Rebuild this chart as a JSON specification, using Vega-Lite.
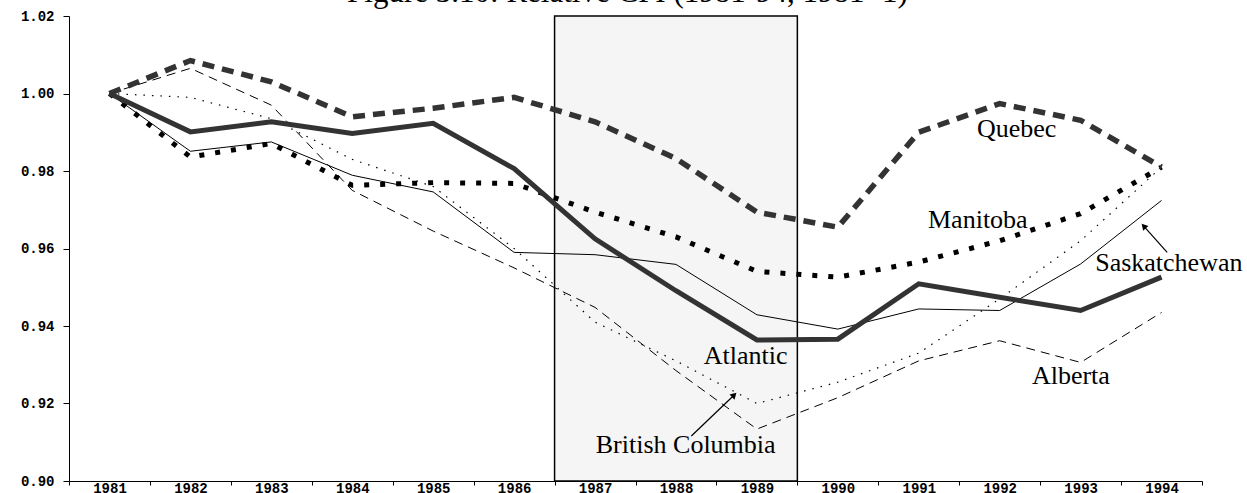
{
  "$schema": "https://vega.github.io/schema/vega-lite/v6.json",
  "width": 1133,
  "height": 465,
  "autosize": {"type": "none"},
  "padding": {"left": 69, "top": 16, "right": 45, "bottom": 12},
  "background": "white",
  "title": {
    "text": "Figure 3.10: Relative CPI (1981-94, 1981=1)",
    "font": "Liberation Serif",
    "fontSize": 31,
    "fontWeight": "normal",
    "color": "black",
    "anchor": "middle",
    "offset": 0,
    "dx": -8
  },
  "datasets": {
    "cpi": [
      {"year": 1981, "region": "Quebec", "value": 1.0},
      {"year": 1982, "region": "Quebec", "value": 1.0085},
      {"year": 1983, "region": "Quebec", "value": 1.003},
      {"year": 1984, "region": "Quebec", "value": 0.994},
      {"year": 1985, "region": "Quebec", "value": 0.9962},
      {"year": 1986, "region": "Quebec", "value": 0.999},
      {"year": 1987, "region": "Quebec", "value": 0.9927},
      {"year": 1988, "region": "Quebec", "value": 0.9832},
      {"year": 1989, "region": "Quebec", "value": 0.9694},
      {"year": 1990, "region": "Quebec", "value": 0.9655},
      {"year": 1991, "region": "Quebec", "value": 0.99},
      {"year": 1992, "region": "Quebec", "value": 0.9974},
      {"year": 1993, "region": "Quebec", "value": 0.9931},
      {"year": 1994, "region": "Quebec", "value": 0.981},
      {"year": 1981, "region": "Manitoba", "value": 1.0},
      {"year": 1982, "region": "Manitoba", "value": 0.9836},
      {"year": 1983, "region": "Manitoba", "value": 0.9871},
      {"year": 1984, "region": "Manitoba", "value": 0.9763},
      {"year": 1985, "region": "Manitoba", "value": 0.977},
      {"year": 1986, "region": "Manitoba", "value": 0.9768},
      {"year": 1987, "region": "Manitoba", "value": 0.9694},
      {"year": 1988, "region": "Manitoba", "value": 0.963},
      {"year": 1989, "region": "Manitoba", "value": 0.9541},
      {"year": 1990, "region": "Manitoba", "value": 0.9526},
      {"year": 1991, "region": "Manitoba", "value": 0.9565},
      {"year": 1992, "region": "Manitoba", "value": 0.962},
      {"year": 1993, "region": "Manitoba", "value": 0.969},
      {"year": 1994, "region": "Manitoba", "value": 0.981},
      {"year": 1981, "region": "Atlantic", "value": 1.0},
      {"year": 1982, "region": "Atlantic", "value": 0.9901},
      {"year": 1983, "region": "Atlantic", "value": 0.9927},
      {"year": 1984, "region": "Atlantic", "value": 0.9897},
      {"year": 1985, "region": "Atlantic", "value": 0.9923},
      {"year": 1986, "region": "Atlantic", "value": 0.9806},
      {"year": 1987, "region": "Atlantic", "value": 0.9625},
      {"year": 1988, "region": "Atlantic", "value": 0.9491},
      {"year": 1989, "region": "Atlantic", "value": 0.9364},
      {"year": 1990, "region": "Atlantic", "value": 0.9366},
      {"year": 1991, "region": "Atlantic", "value": 0.9509},
      {"year": 1992, "region": "Atlantic", "value": 0.9474},
      {"year": 1993, "region": "Atlantic", "value": 0.944},
      {"year": 1994, "region": "Atlantic", "value": 0.9526},
      {"year": 1981, "region": "Saskatchewan", "value": 1.0},
      {"year": 1982, "region": "Saskatchewan", "value": 0.9851},
      {"year": 1983, "region": "Saskatchewan", "value": 0.9875},
      {"year": 1984, "region": "Saskatchewan", "value": 0.9789},
      {"year": 1985, "region": "Saskatchewan", "value": 0.9746},
      {"year": 1986, "region": "Saskatchewan", "value": 0.959},
      {"year": 1987, "region": "Saskatchewan", "value": 0.9584},
      {"year": 1988, "region": "Saskatchewan", "value": 0.9559},
      {"year": 1989, "region": "Saskatchewan", "value": 0.9429},
      {"year": 1990, "region": "Saskatchewan", "value": 0.9392},
      {"year": 1991, "region": "Saskatchewan", "value": 0.9444},
      {"year": 1992, "region": "Saskatchewan", "value": 0.944},
      {"year": 1993, "region": "Saskatchewan", "value": 0.956},
      {"year": 1994, "region": "Saskatchewan", "value": 0.9724},
      {"year": 1981, "region": "Alberta", "value": 1.0},
      {"year": 1982, "region": "Alberta", "value": 1.0065},
      {"year": 1983, "region": "Alberta", "value": 0.997},
      {"year": 1984, "region": "Alberta", "value": 0.975},
      {"year": 1985, "region": "Alberta", "value": 0.9645},
      {"year": 1986, "region": "Alberta", "value": 0.955},
      {"year": 1987, "region": "Alberta", "value": 0.9448},
      {"year": 1988, "region": "Alberta", "value": 0.9285},
      {"year": 1989, "region": "Alberta", "value": 0.9134},
      {"year": 1990, "region": "Alberta", "value": 0.9215},
      {"year": 1991, "region": "Alberta", "value": 0.931},
      {"year": 1992, "region": "Alberta", "value": 0.9362},
      {"year": 1993, "region": "Alberta", "value": 0.9306},
      {"year": 1994, "region": "Alberta", "value": 0.9435},
      {"year": 1981, "region": "British Columbia", "value": 1.0},
      {"year": 1982, "region": "British Columbia", "value": 0.999},
      {"year": 1983, "region": "British Columbia", "value": 0.9935},
      {"year": 1984, "region": "British Columbia", "value": 0.983},
      {"year": 1985, "region": "British Columbia", "value": 0.976},
      {"year": 1986, "region": "British Columbia", "value": 0.96},
      {"year": 1987, "region": "British Columbia", "value": 0.941},
      {"year": 1988, "region": "British Columbia", "value": 0.931},
      {"year": 1989, "region": "British Columbia", "value": 0.92},
      {"year": 1990, "region": "British Columbia", "value": 0.9255},
      {"year": 1991, "region": "British Columbia", "value": 0.933},
      {"year": 1992, "region": "British Columbia", "value": 0.947},
      {"year": 1993, "region": "British Columbia", "value": 0.962},
      {"year": 1994, "region": "British Columbia", "value": 0.981}
    ],
    "labels": [
      {"label": "Quebec", "year": 1992.21, "value": 0.9887},
      {"label": "Manitoba", "year": 1991.73, "value": 0.9654},
      {"label": "Saskatchewan", "year": 1994.09, "value": 0.9543},
      {"label": "Alberta", "year": 1992.88, "value": 0.9251},
      {"label": "Atlantic", "year": 1988.86, "value": 0.9303},
      {"label": "British Columbia", "year": 1988.12, "value": 0.9073}
    ],
    "arrows": [
      {"label": "Saskatchewan", "year": 1994.07, "value": 0.959, "year2": 1993.78, "value2": 0.9658},
      {"label": "British Columbia", "year": 1988.19, "value": 0.9116, "year2": 1988.72, "value2": 0.9222}
    ],
    "band": [
      {"start": 1986.5, "end": 1989.5}
    ]
  },
  "config": {
    "view": {"stroke": null},
    "axis": {
      "grid": false,
      "domainColor": "black",
      "domainWidth": 1,
      "tickColor": "black",
      "tickWidth": 1,
      "labelFont": "Liberation Mono",
      "labelFontWeight": "bold",
      "labelFontSize": 14,
      "labelColor": "black",
      "title": null
    }
  },
  "layer": [
    {
      "data": {"name": "band"},
      "mark": {"type": "rect", "fill": "#f5f5f5", "stroke": "black", "strokeWidth": 1.5},
      "encoding": {
        "x": {
          "field": "start", "type": "quantitative",
          "scale": {"domain": [1980.5, 1994.5], "nice": false, "zero": false},
          "axis": {
            "values": [1980.5, 1981.5, 1982.5, 1983.5, 1984.5, 1985.5, 1986.5, 1987.5, 1988.5, 1989.5, 1990.5, 1991.5, 1992.5, 1993.5, 1994.5],
            "labelExpr": "datum.value < 1994 ? format(datum.value + 0.5, 'd') : ''",
            "labelOffset": 40.5,
            "labelAlign": "center",
            "labelOverlap": false,
            "labelBound": false,
            "labelFlush": false,
            "tickSize": 4,
            "labelPadding": -4
          }
        },
        "x2": {"field": "end"}
      }
    },
    {
      "mark": {"type": "rule", "color": "#8a8a8a", "strokeWidth": 1},
      "encoding": {
        "y": {
          "datum": 1.0, "type": "quantitative",
          "scale": {"domain": [0.9, 1.02], "nice": false, "zero": false},
          "axis": {
            "values": [0.9, 0.92, 0.94, 0.96, 0.98, 1.0, 1.02],
            "format": ".2f",
            "tickSize": 6,
            "labelPadding": 9,
            "labelOverlap": false,
            "labelFlush": false,
            "labelBound": false
          }
        }
      }
    },
    {
      "data": {"name": "cpi"},
      "transform": [{"filter": "datum.region === 'Saskatchewan'"}],
      "mark": {"type": "line", "color": "black", "strokeWidth": 1},
      "encoding": {
        "x": {"field": "year", "type": "quantitative"},
        "y": {"field": "value", "type": "quantitative"}
      }
    },
    {
      "data": {"name": "cpi"},
      "transform": [{"filter": "datum.region === 'Alberta'"}],
      "mark": {"type": "line", "color": "black", "strokeWidth": 1, "strokeDash": [9, 6]},
      "encoding": {
        "x": {"field": "year", "type": "quantitative"},
        "y": {"field": "value", "type": "quantitative"}
      }
    },
    {
      "data": {"name": "cpi"},
      "transform": [{"filter": "datum.region === 'British Columbia'"}],
      "mark": {"type": "line", "color": "black", "strokeWidth": 1.2, "strokeDash": [1.5, 7]},
      "encoding": {
        "x": {"field": "year", "type": "quantitative"},
        "y": {"field": "value", "type": "quantitative"}
      }
    },
    {
      "data": {"name": "cpi"},
      "transform": [{"filter": "datum.region === 'Manitoba'"}],
      "mark": {"type": "line", "color": "black", "strokeWidth": 5, "strokeDash": [5, 11]},
      "encoding": {
        "x": {"field": "year", "type": "quantitative"},
        "y": {"field": "value", "type": "quantitative"}
      }
    },
    {
      "data": {"name": "cpi"},
      "transform": [{"filter": "datum.region === 'Quebec'"}],
      "mark": {"type": "line", "color": "#333333", "strokeWidth": 5.5, "strokeDash": [12, 8]},
      "encoding": {
        "x": {"field": "year", "type": "quantitative"},
        "y": {"field": "value", "type": "quantitative"}
      }
    },
    {
      "data": {"name": "cpi"},
      "transform": [{"filter": "datum.region === 'Atlantic'"}],
      "mark": {"type": "line", "color": "#333333", "strokeWidth": 5},
      "encoding": {
        "x": {"field": "year", "type": "quantitative"},
        "y": {"field": "value", "type": "quantitative"}
      }
    },
    {
      "data": {"name": "labels"},
      "mark": {"type": "text", "font": "Liberation Serif", "fontSize": 26, "color": "black", "align": "center", "baseline": "alphabetic"},
      "encoding": {
        "x": {"field": "year", "type": "quantitative"},
        "y": {"field": "value", "type": "quantitative"},
        "text": {"field": "label"}
      }
    },
    {
      "data": {"name": "arrows"},
      "mark": {"type": "rule", "color": "black", "strokeWidth": 1.2},
      "encoding": {
        "x": {"field": "year", "type": "quantitative"},
        "y": {"field": "value", "type": "quantitative"},
        "x2": {"field": "year2"},
        "y2": {"field": "value2"}
      }
    },
    {
      "data": {"name": "arrows"},
      "transform": [{"filter": "datum.label === 'Saskatchewan'"}],
      "mark": {"type": "point", "shape": "triangle-up", "filled": true, "color": "black", "size": 50, "angle": 318.6, "opacity": 1},
      "encoding": {
        "x": {"field": "year2", "type": "quantitative"},
        "y": {"field": "value2", "type": "quantitative"}
      }
    },
    {
      "data": {"name": "arrows"},
      "transform": [{"filter": "datum.label === 'British Columbia'"}],
      "mark": {"type": "point", "shape": "triangle-up", "filled": true, "color": "black", "size": 50, "angle": 46.1, "opacity": 1},
      "encoding": {
        "x": {"field": "year2", "type": "quantitative"},
        "y": {"field": "value2", "type": "quantitative"}
      }
    }
  ]
}
